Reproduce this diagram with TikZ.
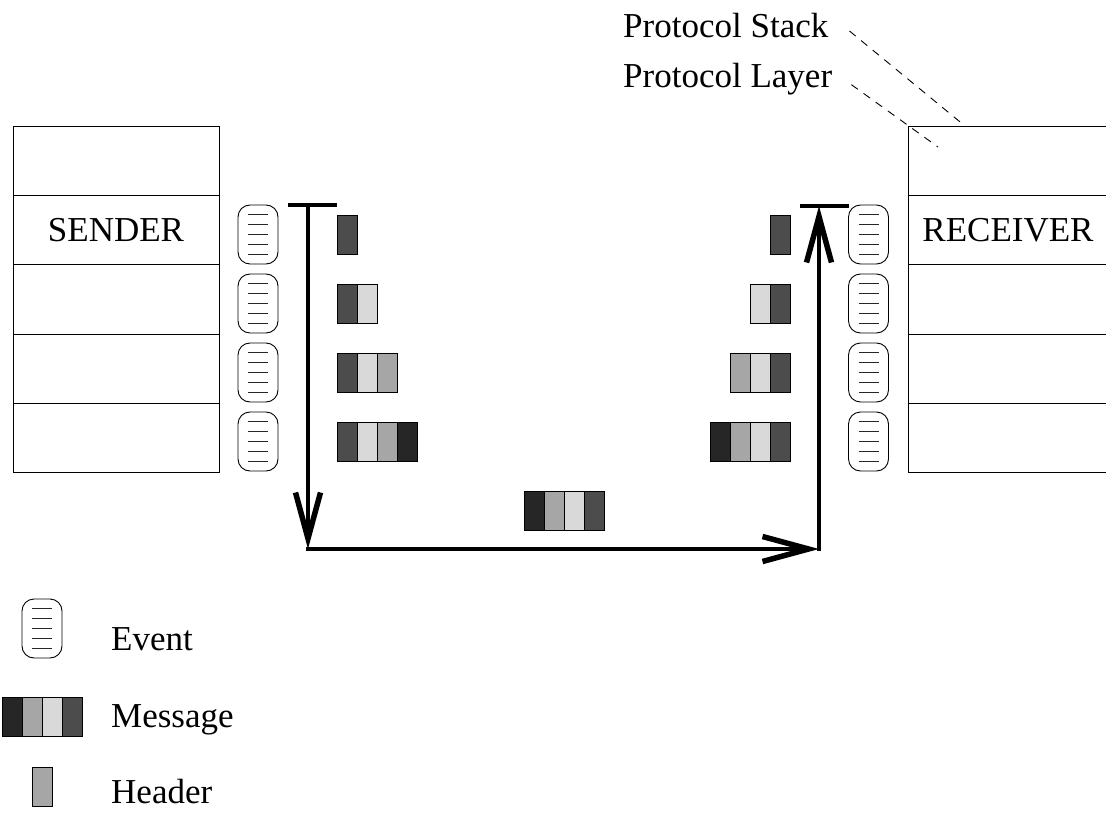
\documentclass[tikz,border=0pt]{standalone}
\usepackage{fontspec}
\setmainfont{Liberation Serif}
\usetikzlibrary{arrows.meta,calc}
\definecolor{cA}{gray}{0.15}
\definecolor{cB}{gray}{0.30}
\definecolor{cC}{gray}{0.65}
\definecolor{cD}{gray}{0.85}
\begin{document}
\begin{tikzpicture}[x=1pt,y=-1pt,
  lbl/.style={font=\fontsize{35}{42}\selectfont,inner sep=0pt},
  layerbox/.style={draw,line width=1pt,minimum height=69pt,inner sep=0pt,font=\fontsize{35}{42}\selectfont},
  sendbox/.style={layerbox,minimum width=206pt},
  recvbox/.style={layerbox,minimum width=200pt},
  evt/.style={draw,line width=0.9pt,rounded corners=12pt,minimum width=40pt,minimum height=59pt,inner sep=0pt,
    path picture={\foreach \k in {-20,-10,0,10,20}
      \draw[line width=0.8pt,black!85] ([xshift=-10pt,yshift=\k pt]path picture bounding box.center) -- ([xshift=10pt,yshift=\k pt]path picture bounding box.center);}},
  hdr/.style={draw,line width=0.9pt,minimum width=20pt,minimum height=39pt,inner sep=0pt},
  flow/.style={line width=4pt,-{Straight Barb[length=46pt,width=25pt,line width=5.5pt,line join=miter]}},
  tbar/.style={line width=4pt},
  leader/.style={line width=0.9pt,dash pattern=on 8pt off 7pt}
]
\useasboundingbox (0,0) rectangle (1106,813);
\clip (0,0) rectangle (1106,813);

% sender stack
\node[sendbox] (s1) at (116,161.5) {};
\node[sendbox] (s2) at (116,230.5) {SENDER};
\node[sendbox] (s3) at (116,299.5) {};
\node[sendbox] (s4) at (116,368.5) {};
\node[sendbox] (s5) at (116,437.5) {};

% receiver stack
\node[recvbox] (r1) at (1008,161.5) {};
\node[recvbox] (r2) at (1008,230.5) {RECEIVER};
\node[recvbox] (r3) at (1008,299.5) {};
\node[recvbox] (r4) at (1008,368.5) {};
\node[recvbox] (r5) at (1008,437.5) {};

% events
\node[evt] (se1) at (258,234.5) {};
\node[evt] (se2) at (258,303.5) {};
\node[evt] (se3) at (258,372.5) {};
\node[evt] (se4) at (258,441.5) {};
\node[evt] (re1) at (868.5,234.5) {};
\node[evt] (re2) at (868.5,303.5) {};
\node[evt] (re3) at (868.5,372.5) {};
\node[evt] (re4) at (868.5,441.5) {};

% sender headers
\node[hdr,fill=cB] (sh11) at (347,234.5) {};
\node[hdr,fill=cB] (sh21) at (347,303.5) {};
\node[hdr,fill=cD] (sh22) at (367,303.5) {};
\node[hdr,fill=cB] (sh31) at (347,372.5) {};
\node[hdr,fill=cD] (sh32) at (367,372.5) {};
\node[hdr,fill=cC] (sh33) at (387,372.5) {};
\node[hdr,fill=cB] (sh41) at (347,441.5) {};
\node[hdr,fill=cD] (sh42) at (367,441.5) {};
\node[hdr,fill=cC] (sh43) at (387,441.5) {};
\node[hdr,fill=cA] (sh44) at (407,441.5) {};

% receiver headers
\node[hdr,fill=cB] (rh11) at (780,234.5) {};
\node[hdr,fill=cB] (rh21) at (780,303.5) {};
\node[hdr,fill=cD] (rh22) at (760,303.5) {};
\node[hdr,fill=cB] (rh31) at (780,372.5) {};
\node[hdr,fill=cD] (rh32) at (760,372.5) {};
\node[hdr,fill=cC] (rh33) at (740,372.5) {};
\node[hdr,fill=cB] (rh41) at (780,441.5) {};
\node[hdr,fill=cD] (rh42) at (760,441.5) {};
\node[hdr,fill=cC] (rh43) at (740,441.5) {};
\node[hdr,fill=cA] (rh44) at (720,441.5) {};

% message in transit
\node[hdr,fill=cA] (m1) at (534,511) {};
\node[hdr,fill=cC] (m2) at (554,511) {};
\node[hdr,fill=cD] (m3) at (574,511) {};
\node[hdr,fill=cB] (m4) at (594,511) {};

% flow arrows
\coordinate (tl) at (308,205);
\coordinate (bl) at (308,549);
\coordinate (br) at (819,549);
\coordinate (tr) at (819,206);
\coordinate (tlA) at (288,205);
\coordinate (tlB) at (337,205);
\coordinate (trA) at (800,206);
\coordinate (trB) at (849,206);
\draw[tbar] (tlA) -- (tlB);
\draw[tbar] (trA) -- (trB);
\draw[flow] (tl) -- (bl);
\draw[flow] ([xshift=-2pt]bl) -- (br);
\draw[flow] ([yshift=-2pt]br) -- (tr);

% labels top right
\node[lbl,anchor=base west] (lstack) at (623,38) {Protocol Stack};
\node[lbl,anchor=base west] (llayer) at (623,88) {Protocol Layer};
\coordinate (stackEnd) at (965,126);
\coordinate (layerEnd) at (938,147);
\draw[leader] ([xshift=21pt,yshift=-5pt]lstack.east) -- (stackEnd);
\draw[leader] ([xshift=19pt,yshift=-5pt]llayer.east) -- (layerEnd);

% legend
\node[evt] (lev) at (42,628.5) {};
\node[lbl,anchor=base west] (tev) at (111,650) {Event};
\node[hdr,fill=cA] (lm1) at (12,717) {};
\node[hdr,fill=cC] (lm2) at (32,717) {};
\node[hdr,fill=cD] (lm3) at (52,717) {};
\node[hdr,fill=cB] (lm4) at (72,717) {};
\node[lbl,anchor=base west] (tmsg) at (111,727) {Message};
\node[hdr,fill=cC] (lh) at (42,787) {};
\node[lbl,anchor=base west] (thdr) at (111,803) {Header};
\end{tikzpicture}
\end{document}
